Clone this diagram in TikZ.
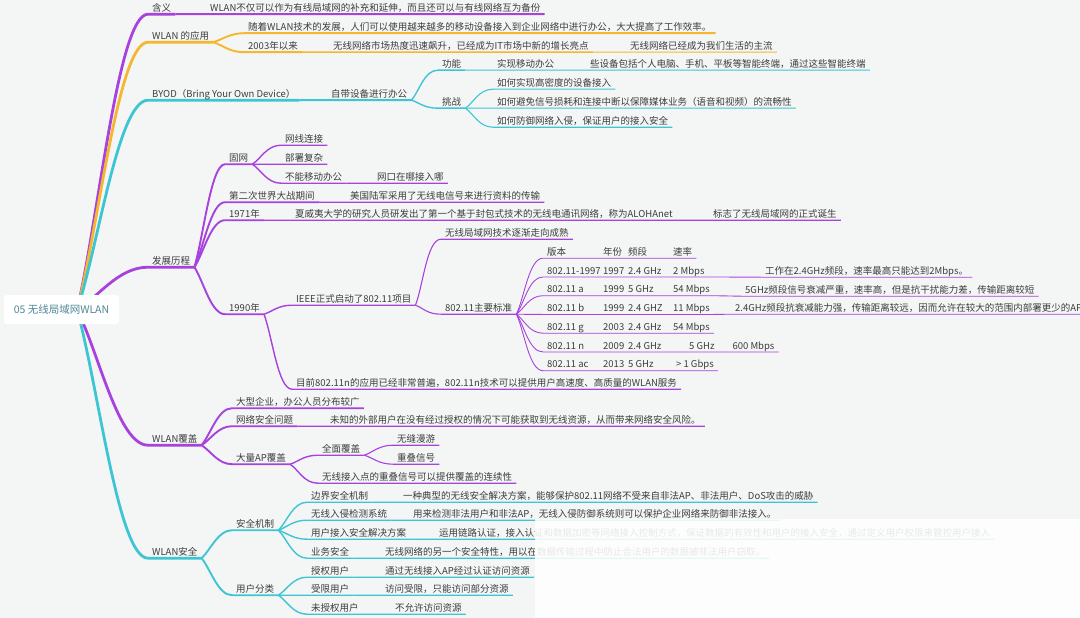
\documentclass[tikz,border=0pt]{standalone}
\usepackage{fontspec}
\setmainfont{Noto Sans CJK SC}
\usetikzlibrary{calc}
\definecolor{mmpurple}{HTML}{A842DE}
\definecolor{mmorange}{HTML}{F5B630}
\definecolor{mmteal}{HTML}{3DC5D4}
\definecolor{ink}{HTML}{3C3C3C}
\definecolor{paper}{HTML}{F4F6F5}
\definecolor{rootink}{HTML}{4F8797}
\pgfdeclarelayer{background}
\pgfsetlayers{background,main}
\tikzset{
  txt/.style={anchor=west, inner xsep=4pt, inner ysep=1.25pt, text height=8pt,
    text depth=1.5pt, font=\fontsize{9.5}{11}\selectfont, text=ink},
  rootbox/.style={fill=white, rounded corners=3pt, minimum width=115pt,
    minimum height=29pt, text=rootink, font=\fontsize{10.5}{12}\selectfont},
  mmcurve/.style={to path={.. controls ($(\tikztostart)!0.3!(\tikztotarget)$)
    and ($(\tikztotarget)+(-14,0)$) .. (\tikztotarget) \tikztonodes}},
  rootcurve/.style={to path={.. controls ($(\tikztostart)!0.3!(\tikztotarget)$)
    and ($(\tikztotarget)+(-30,0)$) .. (\tikztotarget) \tikztonodes}},
  pu/.style={draw=mmpurple}, og/.style={draw=mmorange}, tl/.style={draw=mmteal},
  lv1/.style={line width=2.8pt}, lv2/.style={line width=1.9pt},
  lv3/.style={line width=1.4pt}, lv4/.style={line width=1.1pt},
  lv5/.style={line width=0.9pt}
}
\begin{document}
\begin{tikzpicture}[x=1pt,y=-1pt]
\useasboundingbox (0,0) rectangle (1080,618);

% root
\node[rootbox] (root) at (61.5,309.5) {05 无线局域网WLAN};
\coordinate (hub) at (77,310);

% first level
\node[txt] (hanyi) at (148,8) {含义};
\node[txt] (yingyong) at (148,36) {WLAN 的应用};
\node[txt] (byod) at (148,94) {BYOD（Bring Your Own Device）};
\node[txt] (licheng) at (148,261) {发展历程};
\node[txt] (fugai) at (148,439) {WLAN覆盖};
\node[txt] (anquan) at (148,552) {WLAN安全};

% 含义 / 应用
\node[txt] (hanyiA) at (206,8) {WLAN不仅可以作为有线局域网的补充和延伸，而且还可以与有线网络互为备份};
\node[txt] (yyA) at (244,27) {随着WLAN技术的发展，人们可以使用越来越多的移动设备接入到企业网络中进行办公，大大提高了工作效率。};
\node[txt] (yyB) at (244,46) {2003年以来};
\node[txt] (yyB1) at (329,46) {无线网络市场热度迅速飙升，已经成为IT市场中新的增长亮点};
\node[txt] (yyB2) at (626,46) {无线网络已经成为我们生活的主流};

% BYOD
\node[txt] (byodA) at (327,94) {自带设备进行办公};
\node[txt] (gongneng) at (438,64) {功能};
\node[txt] (tiaozhan) at (438,102) {挑战};
\node[txt] (gnA) at (493,64) {实现移动办公};
\node[txt] (gnB) at (586,64) {些设备包括个人电脑、手机、平板等智能终端，通过这些智能终端};
\node[txt] (tzA) at (493,83) {如何实现高密度的设备接入};
\node[txt] (tzB) at (493,102) {如何避免信号损耗和连接中断以保障媒体业务（语音和视频）的流畅性};
\node[txt] (tzC) at (493,121) {如何防御网络入侵，保证用户的接入安全};

% 发展历程
\node[txt] (guwang) at (225,158) {固网};
\node[txt] (wxlj) at (281,139) {网线连接};
\node[txt] (bsfz) at (281,158) {部署复杂};
\node[txt] (bnyd) at (281,177) {不能移动办公};
\node[txt] (bnydA) at (373,177) {网口在哪接入哪};
\node[txt] (erzhan) at (225,196) {第二次世界大战期间};
\node[txt] (erzhanA) at (346,196) {美国陆军采用了无线电信号来进行资料的传输};
\node[txt] (y1971) at (225,214) {1971年};
\node[txt] (y1971A) at (291,214) {夏威夷大学的研究人员研发出了第一个基于封包式技术的无线电通讯网络，称为ALOHAnet};
\node[txt] (y1971B) at (709,214) {标志了无线局域网的正式诞生};
\node[txt] (y1990) at (225,308) {1990年};
\node[txt] (ieee) at (292,299) {IEEE正式启动了802.11项目};
\node[txt] (muqian) at (292,383) {目前802.11n的应用已经非常普遍，802.11n技术可以提供用户高速度、高质量的WLAN服务};
\node[txt] (chengshu) at (441,233) {无线局域网技术逐渐走向成熟};
\node[txt] (biaozhun) at (441,308) {802.11主要标准};
\foreach \ver/\yr/\band/\rate [count=\i from 0] in {版本/年份/频段/速率,
    802.11-1997/1997/2.4 GHz/2 Mbps, 802.11 a/1999/5 GHz/54 Mbps,
    802.11 b/1999/2.4 GHZ/11 Mbps, 802.11 g/2003/2.4 GHz/54 Mbps,
    802.11 n/2009/2.4 GHz/{\hspace{16pt}5 GHz\hspace{18pt}600 Mbps},
    802.11 ac/2013/5 GHz/{\hspace{3pt}> 1 Gbps}}
  \node[txt] (t\i) at (543,{252+18.75*\i})
    {\makebox[56pt][l]{\ver}\makebox[25pt][l]{\yr}\makebox[45pt][l]{\band}\rate};
\node[txt] (d1) at (761,271) {工作在2.4GHz频段，速率最高只能达到2Mbps。};
\node[txt] (d2) at (741,290) {5GHz频段信号衰减严重，速率高，但是抗干扰能力差，传输距离较短};
\node[txt] (d3) at (731,308) {2.4GHz频段抗衰减能力强，传输距离较远，因而允许在较大的范围内部署更少的AP};

% WLAN覆盖
\node[txt] (dxqy) at (232,402) {大型企业，办公人员分布较广};
\node[txt] (wlaq) at (232,420) {网络安全问题};
\node[txt] (wlaqA) at (326,420) {未知的外部用户在没有经过授权的情况下可能获取到无线资源，从而带来网络安全风险。};
\node[txt] (dlap) at (232,458) {大量AP覆盖};
\node[txt] (qmfg) at (318,449) {全面覆盖};
\node[txt] (wfmy) at (393,439) {无缝漫游};
\node[txt] (cdxh2) at (393,458) {重叠信号};
\node[txt] (cdxh) at (318,477) {无线接入点的重叠信号可以提供覆盖的连续性};

% WLAN安全
\node[txt] (aqjz) at (232,524) {安全机制};
\node[txt] (bjaq) at (307,496) {边界安全机制};
\node[txt] (bjaqA) at (399,496) {一种典型的无线安全解决方案，能够保护802.11网络不受来自非法AP、非法用户、DoS攻击的威胁};
\node[txt] (wxrq) at (307,514) {无线入侵检测系统};
\node[txt] (wxrqA) at (409,514) {用来检测非法用户和非法AP，无线入侵防御系统则可以保护企业网络来防御非法接入。};
\node[txt] (yhjr) at (307,533) {用户接入安全解决方案};
\node[txt] (yhjrA) at (435,533) {运用链路认证，接入认证和数据加密等网络接入控制方式，保证数据的有效性和用户的接入安全，通过定义用户权限来管控用户接入};
\node[txt] (ywaq) at (307,552) {业务安全};
\node[txt] (ywaqA) at (381,552) {无线网络的另一个安全特性，用以在数据传输过程中防止合法用户的数据被非法用户窃取。};
\node[txt] (yhfl) at (232,589) {用户分类};
\node[txt] (sqyh) at (307,571) {授权用户};
\node[txt] (sqyhA) at (381,571) {通过无线接入AP经过认证访问资源};
\node[txt] (sxyh) at (307,589) {受限用户};
\node[txt] (sxyhA) at (381,589) {访问受限，只能访问部分资源};
\node[txt] (wsq) at (307,608) {未授权用户};
\node[txt] (wsqA) at (391,608) {不允许访问资源};

\begin{pgfonlayer}{background}
\fill[paper] (0,0) rectangle (1080,618);
% branches from the root
\foreach \b/\c in {hanyi/pu, yingyong/og, byod/tl, licheng/pu, fugai/pu, anquan/tl}
  \draw[\c,lv1] (hub) to[rootcurve] (\b.south west) -- (\b.south east);
% second level
\foreach \a/\b/\c in {hanyi/hanyiA/pu, yingyong/yyA/og, yingyong/yyB/og, byod/byodA/tl,
    licheng/guwang/pu, licheng/erzhan/pu, licheng/y1971/pu, licheng/y1990/pu,
    fugai/dxqy/pu, fugai/wlaq/pu, fugai/dlap/pu, anquan/aqjz/tl, anquan/yhfl/tl}
  \draw[\c,lv2] (\a.south east) to[mmcurve] (\b.south west) -- (\b.south east);
% third level
\foreach \a/\b/\c in {yyB/yyB1/og, byodA/gongneng/tl, byodA/tiaozhan/tl,
    guwang/wxlj/pu, guwang/bsfz/pu, guwang/bnyd/pu, erzhan/erzhanA/pu,
    y1971/y1971A/pu, y1990/ieee/pu, y1990/muqian/pu, wlaq/wlaqA/pu,
    dlap/qmfg/pu, dlap/cdxh/pu, aqjz/bjaq/tl, aqjz/wxrq/tl, aqjz/yhjr/tl,
    aqjz/ywaq/tl, yhfl/sqyh/tl, yhfl/sxyh/tl, yhfl/wsq/tl}
  \draw[\c,lv3] (\a.south east) to[mmcurve] (\b.south west) -- (\b.south east);
% deeper levels
\foreach \a/\b/\c in {yyB1/yyB2/og, gongneng/gnA/tl, gnA/gnB/tl, tiaozhan/tzA/tl,
    tiaozhan/tzB/tl, tiaozhan/tzC/tl, bnyd/bnydA/pu, y1971A/y1971B/pu,
    ieee/chengshu/pu, ieee/biaozhun/pu, qmfg/wfmy/pu, qmfg/cdxh2/pu,
    bjaq/bjaqA/tl, wxrq/wxrqA/tl, yhjr/yhjrA/tl, ywaq/ywaqA/tl,
    sqyh/sqyhA/tl, sxyh/sxyhA/tl, wsq/wsqA/tl}
  \draw[\c,lv4] (\a.south east) to[mmcurve] (\b.south west) -- (\b.south east);
% 802.11 table
\foreach \i in {0,...,6}
  \draw[pu,lv5] (biaozhun.south east) to[mmcurve] (t\i.south west) -- (t\i.south east);
\foreach \i in {1,2,3}
  \draw[pu,lv5] (t\i.south east) -- (d\i.south west) -- (d\i.south east);
\end{pgfonlayer}

% washed-out corner
\fill[white,opacity=0.88] (535,519) rectangle (1080,618);
\end{tikzpicture}
\end{document}
